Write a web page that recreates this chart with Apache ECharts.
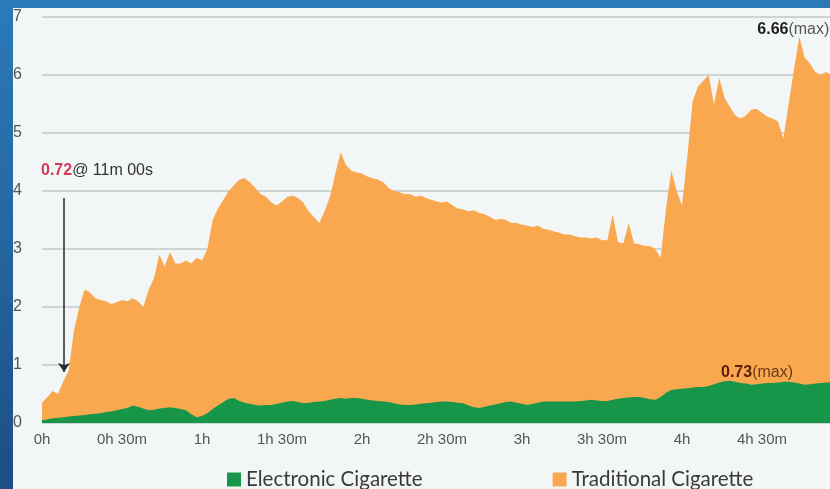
<!DOCTYPE html>
<html>
<head>
<meta charset="utf-8">
<script src="https://cdn.jsdelivr.net/npm/echarts@6/dist/echarts.min.js"></script>
<style>
  html, body { margin: 0; padding: 0; }
  body { width: 830px; height: 489px; overflow: hidden; position: relative;
         background: linear-gradient(to bottom, #2b7ab8 0%, #2468a3 45%, #1d4d84 100%); }
  #panel { position: absolute; left: 13px; top: 8px; right: 0; bottom: 0; background: #f3f6f6; }
  #chart { position: absolute; left: 0; top: 0; width: 830px; height: 489px; }
</style>
</head>
<body>
<div id="panel"></div>
<div id="chart"></div>
<script>
// minutes since start (0h .. 5h)
const minutes = [
  0, 2, 4, 6, 8, 10, 12, 14, 16, 18, 20, 22, 24, 26, 28, 30, 32, 34, 36, 38,
  40, 42, 44, 46, 48, 50, 52, 54, 56, 58, 60, 62, 64, 66, 68, 70, 72, 74, 76, 78,
  80, 82, 84, 86, 88, 90, 92, 94, 96, 98, 100, 102, 104, 106, 108, 110, 112, 114, 116, 118,
  120, 122, 124, 126, 128, 130, 132, 134, 136, 138, 140, 142, 144, 146, 148, 150, 152, 154, 156, 158,
  160, 162, 164, 166, 168, 170, 172, 174, 176, 178, 180, 182, 184, 186, 188, 190, 192, 194, 196, 198,
  200, 202, 204, 206, 208, 210, 212, 214, 216, 218, 220, 222, 224, 226, 228, 230, 232, 234, 236, 238,
  240, 242, 244, 246, 248, 250, 252, 254, 256, 258, 260, 262, 264, 266, 268, 270, 272, 274, 276, 278,
  280, 282, 284, 286, 288, 290, 292, 294, 296, 298, 300
];

const traditional = [
  0.35, 0.45, 0.55, 0.5, 0.72, 0.9, 1.6, 2.0, 2.3, 2.25, 2.15, 2.12, 2.1, 2.05, 2.08, 2.12, 2.1, 2.15, 2.1, 2.0,
  2.3, 2.5, 2.9, 2.7, 2.95, 2.75, 2.75, 2.8, 2.75, 2.85, 2.8, 3.0, 3.5, 3.7, 3.85, 4.0, 4.1, 4.2, 4.22, 4.15,
  4.05, 3.95, 3.9, 3.8, 3.75, 3.82, 3.9, 3.92, 3.88, 3.8, 3.65, 3.55, 3.45, 3.65, 3.9, 4.3, 4.67, 4.45, 4.35, 4.32,
  4.3, 4.25, 4.22, 4.2, 4.15, 4.05, 4.0, 3.98, 3.95, 3.95, 3.9, 3.92, 3.88, 3.85, 3.82, 3.8, 3.82, 3.75, 3.7, 3.68,
  3.65, 3.67, 3.62, 3.6, 3.55, 3.5, 3.52, 3.5, 3.45, 3.45, 3.42, 3.4, 3.38, 3.4, 3.35, 3.33, 3.3, 3.28, 3.25, 3.25,
  3.22, 3.2, 3.2, 3.18, 3.2, 3.15, 3.15, 3.6, 3.12, 3.1, 3.45, 3.1, 3.08, 3.05, 3.05, 3.0, 2.85, 3.7, 4.35, 4.0,
  3.75, 4.6, 5.55, 5.8, 5.9, 6.0, 5.5, 5.95, 5.6, 5.45, 5.3, 5.25, 5.3, 5.4, 5.42, 5.35, 5.28, 5.25, 5.2, 4.9,
  5.5, 6.1, 6.66, 6.3, 6.2, 6.05, 6.0, 6.05, 6.0, 6.0, 6.0
];

const electronic = [
  0.05, 0.06, 0.08, 0.09, 0.1, 0.11, 0.12, 0.13, 0.14, 0.15, 0.16, 0.17, 0.19, 0.2, 0.22, 0.24, 0.26, 0.3, 0.28, 0.25,
  0.22, 0.23, 0.25, 0.26, 0.27, 0.26, 0.24, 0.22, 0.15, 0.1, 0.12, 0.17, 0.24, 0.3, 0.36, 0.42, 0.43, 0.38, 0.35, 0.33,
  0.31, 0.3, 0.31, 0.31, 0.33, 0.35, 0.37, 0.38, 0.36, 0.34, 0.35, 0.36, 0.37, 0.38, 0.4, 0.42, 0.43, 0.42, 0.43, 0.43,
  0.42, 0.4, 0.39, 0.38, 0.37, 0.36, 0.34, 0.32, 0.31, 0.31, 0.32, 0.33, 0.34, 0.35, 0.36, 0.37, 0.37, 0.36, 0.35, 0.34,
  0.3, 0.27, 0.26, 0.28, 0.3, 0.32, 0.34, 0.36, 0.37, 0.35, 0.33, 0.31, 0.33, 0.35, 0.37, 0.37, 0.37, 0.37, 0.37, 0.37,
  0.37, 0.38, 0.39, 0.4, 0.39, 0.38, 0.38, 0.4, 0.42, 0.43, 0.44, 0.45, 0.45, 0.43, 0.41, 0.4, 0.45, 0.52, 0.57, 0.58,
  0.59, 0.6, 0.61, 0.62, 0.62, 0.64, 0.67, 0.7, 0.72, 0.73, 0.71, 0.69, 0.68, 0.66, 0.67, 0.68, 0.69, 0.69, 0.7, 0.71,
  0.71, 0.7, 0.68, 0.66, 0.67, 0.68, 0.69, 0.7, 0.7, 0.7, 0.71
];

const yTicks = [0, 1, 2, 3, 4, 5, 6, 7];

// annotation: arrow pointing at the 11m mark
const arrowX = 8.25;
const arrowFrom = 3.88;
const arrowTo = 0.88;

const pair = vals => minutes.map((m, i) => [m, vals[i]]);

const fmtTime = m => {
  const h = Math.floor(m / 60), mm = m % 60;
  return h + 'h' + (mm ? ' ' + mm + 'm' : '');
};

const chart = echarts.init(document.getElementById('chart'));

const hidden = { symbol: 'rect', symbolSize: 1, itemStyle: { color: 'rgba(0,0,0,0)' } };

const maxLabel = (color1, color2, offset) => ({
  show: true,
  position: 'inside',
  offset: offset,
  formatter: p => '{v|' + p.value + '}{m|(max)}',
  rich: {
    v: { fontWeight: 'bold', fontSize: 16, color: color1 },
    m: { fontSize: 16, color: color2 }
  }
});

const option = {
  animation: false,
  textStyle: { fontFamily: 'Liberation Sans, Arial, sans-serif' },
  grid: { left: 42, width: 800, top: 17, height: 406, outerBoundsMode: 'none', containLabel: false },
  legend: {
    left: 222,
    top: 464,
    icon: 'rect',
    itemWidth: 14,
    itemHeight: 14,
    itemGap: 130,
    textStyle: { fontFamily: 'Lato', fontSize: 20.5, color: '#3a3a3a' },
    data: ['Electronic Cigarette', 'Traditional Cigarette']
  },
  xAxis: {
    type: 'value',
    min: 0,
    max: 300,
    interval: 30,
    axisLine: { show: false },
    axisTick: { show: false },
    splitLine: { show: false },
    axisLabel: {
      margin: 9,
      fontSize: 15,
      color: '#555',
      formatter: v => fmtTime(v)
    }
  },
  yAxis: {
    type: 'value',
    min: yTicks[0],
    max: yTicks[yTicks.length - 1],
    interval: 1,
    axisLine: { show: false },
    axisTick: { show: false },
    axisLabel: { margin: 20, fontSize: 16, color: '#555' },
    splitLine: { lineStyle: { color: '#c3c8c8', width: 1.5 } }
  },
  series: [
    {
      name: 'Traditional Cigarette',
      type: 'line',
      data: pair(traditional),
      showSymbol: false,
      symbol: 'none',
      color: '#faa84f',
      lineStyle: { width: 0 },
      areaStyle: { color: '#faa84f', opacity: 1 },
      z: 2,
      markLine: {
        silent: true,
        symbol: ['none', 'arrow'],
        symbolSize: 9,
        label: { show: false },
        lineStyle: { color: '#2a2a2a', width: 1.5, type: 'solid' },
        data: [[{ coord: [arrowX, arrowFrom] }, { coord: [arrowX, arrowTo] }]]
      },
      markPoint: Object.assign({
        silent: true,
        data: [
          { type: 'max', label: maxLabel('#1e1e1e', '#555', [-6, -7]) },
          {
            coord: [arrowX, arrowFrom],
            value: 0.72,
            label: {
              show: true,
              position: 'inside',
              offset: [33, -27],
              formatter: '{v|0.72}{t|@ 11m 00s}',
              rich: {
                v: { fontWeight: 'bold', fontSize: 16, color: '#d23a58' },
                t: { fontSize: 16, color: '#333' }
              }
            }
          }
        ]
      }, hidden)
    },
    {
      name: 'Electronic Cigarette',
      type: 'line',
      data: pair(electronic),
      showSymbol: false,
      symbol: 'none',
      color: '#17964a',
      lineStyle: { width: 0 },
      areaStyle: { color: '#17964a', opacity: 1 },
      z: 3,
      markPoint: Object.assign({
        silent: true,
        data: [
          { type: 'max', label: maxLabel('#5a1e08', '#6a3a20', [27, -8]) }
        ]
      }, hidden)
    }
  ]
};

chart.setOption(option);
</script>
</body>
</html>
